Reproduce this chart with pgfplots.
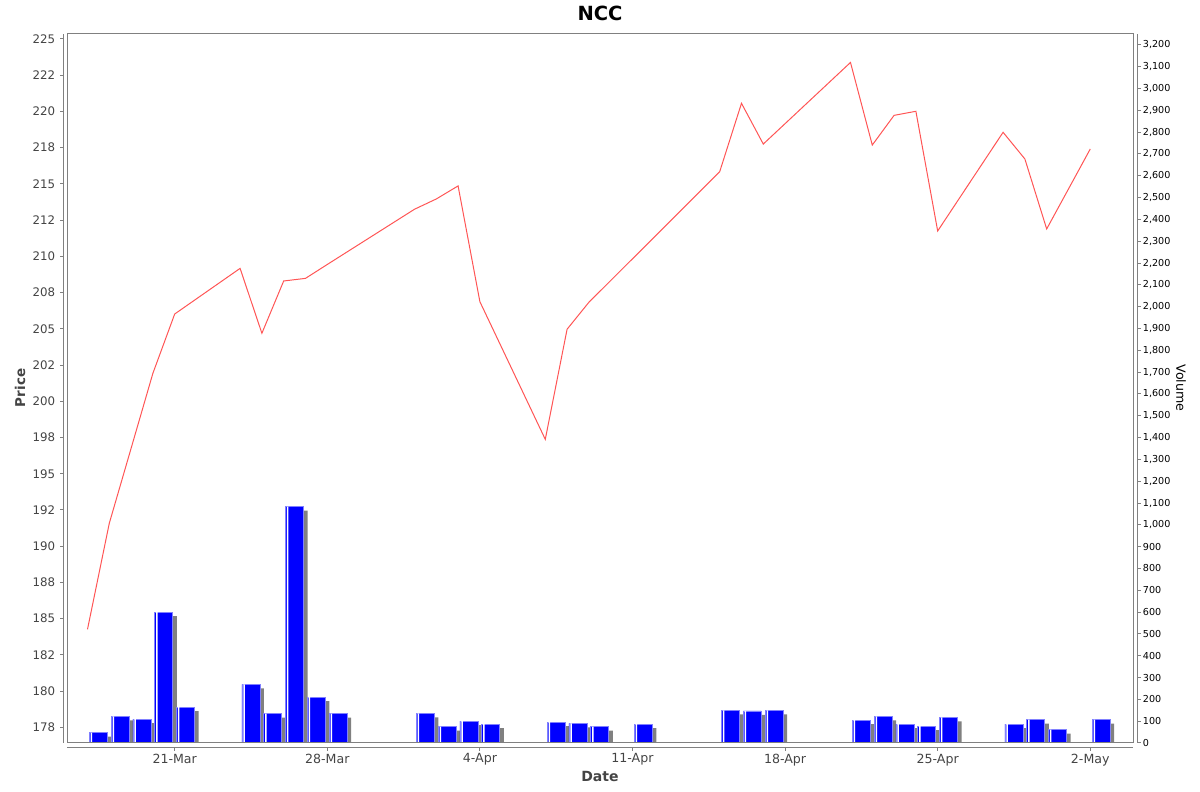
\documentclass[border=0pt]{standalone}
\usepackage{pgfplots}
\pgfplotsset{compat=1.18}
\usepackage{pgfplotstable}
\usepackage{fontspec}
\setmainfont{DejaVu Sans}
\definecolor{jred}{RGB}{255,85,85}
\definecolor{axgray}{RGB}{128,128,128}
\definecolor{lblgray}{RGB}{68,68,68}
\definecolor{barout}{RGB}{128,128,255}
\definecolor{shadowgray}{RGB}{128,128,128}

% day index: 0 = 17-Mar
\pgfplotstableread{
d p
0 184.26
1 191.58
2 196.75
3 201.93
4 206.02
7 209.17
8 204.69
9 208.30
10 208.48
11 209.44
15 213.25
16 213.96
17 214.86
18 206.87
21 197.37
22 204.97
23 206.83
25 209.83
29 215.84
30 220.56
31 217.75
35 223.38
36 217.68
37 219.73
38 220.01
39 211.75
42 218.56
43 216.72
44 211.89
46 217.41
}\pricetable

\pgfplotstableread{
d v
0 48
1 122
2 109
3 600
4 164
7 269
8 135
9 1084
10 210
11 135
15 136
16 75
17 100
18 86
21 96
22 90
23 75
25 86
29 149
30 147
31 150
35 105
36 122
37 86
38 77
39 118
42 86
43 107
44 61
46 107
}\voltable

\pgfplotsset{
  base/.style={anchor=south west, scale only axis,
    /pgf/number format/assume math mode=true},
}

\begin{document}
\begin{tikzpicture}[x=1bp,y=1bp]
\useasboundingbox (0,0) rectangle (1200,792);

% volume bars
\begin{axis}[base, at={(67bp,49bp)}, width=1066bp, height=709bp,
  xmin=-0.94, xmax=47.96, ymin=0, ymax=3250, hide axis, clip=true]
\addplot[ybar, bar width=18bp, bar shift=10.9bp, fill=blue, draw=barout, line width=0.8bp,
  preaction={fill=shadowgray, draw=none, transform canvas={shift={(4bp,-4bp)}}}]
  table[x=d,y=v]{\voltable};
\addplot[ybar, bar width=1.5bp, bar shift=4bp, fill=white, draw=none]
  table[x=d,y=v]{\voltable};
\end{axis}

% price line
\begin{axis}[base, at={(67bp,49bp)}, width=1066bp, height=709bp,
  xmin=-0.94, xmax=47.96, ymin=176.417, ymax=225.345, hide axis, clip=true]
\addplot[jred, line width=1bp, mark=none] table[x=d,y=p]{\pricetable};
\end{axis}

% frame
\draw[axgray, line width=1bp] (67,49) rectangle (1133,758);

% left price axis
\begin{axis}[base, at={(63.3bp,49bp)}, width=10bp, height=709bp,
  xmin=0, xmax=1, ymin=176.417, ymax=225.345,
  axis y line*=left, axis x line=none,
  ytick={177.5,180,182.5,185,187.5,190,192.5,195,197.5,200,202.5,205,207.5,210,212.5,215,217.5,220,222.5,225},
  yticklabels={178,180,182,185,188,190,192,195,198,200,202,205,208,210,212,215,218,220,222,225},
  tick align=outside, major tick length=3bp,
  axis line style={axgray, line width=1bp}, tick style={axgray, line width=1bp},
  yticklabel style={font=\fontsize{11.8bp}{13bp}\selectfont, color=lblgray, inner sep=0pt, anchor=east, xshift=-5bp}]
\end{axis}

% bottom date axis
\begin{axis}[base, at={(67bp,44bp)}, width=1066bp, height=10bp,
  xmin=-0.94, xmax=47.96, ymin=0, ymax=1,
  axis x line*=bottom, axis y line=none,
  xtick={4,11,18,25,32,39,46},
  xticklabels={21-Mar,28-Mar,4-Apr,11-Apr,18-Apr,25-Apr,2-May},
  tick align=outside, major tick length=3bp,
  axis line style={axgray, line width=1bp}, tick style={axgray, line width=1bp},
  xticklabel style={font=\fontsize{12.6bp}{14bp}\selectfont, color=lblgray, inner sep=0pt, anchor=north, yshift=-2.5bp}]
\end{axis}

% right volume axis
\begin{axis}[base, at={(1127.7bp,49bp)}, width=10bp, height=709bp,
  xmin=0, xmax=1, ymin=0, ymax=3250,
  axis y line*=right, axis x line=none,
  ytick={0,100,...,3200},
  /pgf/number format/1000 sep={,},
  tick align=outside, major tick length=3bp,
  axis line style={axgray, line width=1bp}, tick style={axgray, line width=1bp},
  yticklabel style={font=\fontsize{9.6bp}{11bp}\selectfont, color=black, inner sep=0pt, anchor=west, xshift=2bp}]
\end{axis}

% titles and labels
\node[font=\fontsize{19.5bp}{22bp}\selectfont\bfseries] at (600,779) {NCC};
\node[font=\fontsize{13.5bp}{16bp}\selectfont\bfseries, color=lblgray, rotate=90] at (20,404) {Price};
\node[font=\fontsize{14bp}{16bp}\selectfont\bfseries, color=lblgray] at (600,16) {Date};
\node[font=\fontsize{12.6bp}{15bp}\selectfont, rotate=-90] at (1181,404) {Volume};
\end{tikzpicture}
\end{document}
